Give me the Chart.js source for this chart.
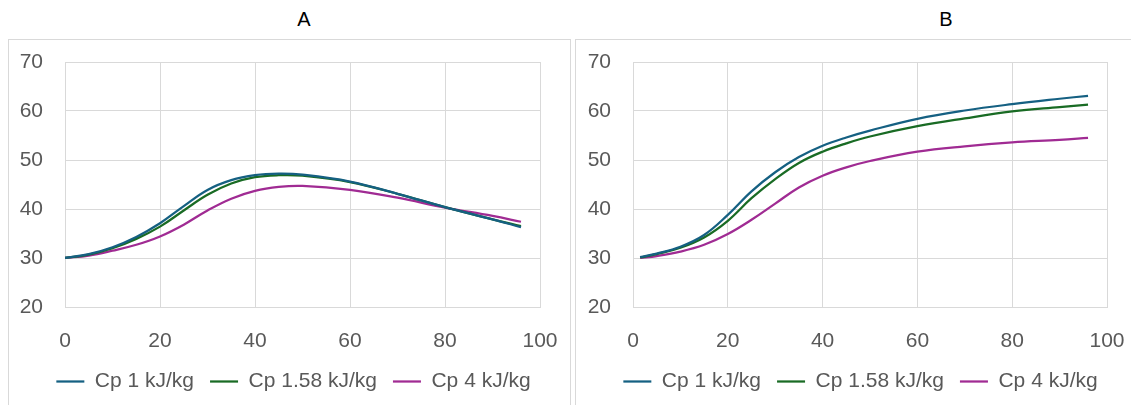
<!DOCTYPE html>
<html>
<head>
<meta charset="utf-8">
<script src="https://cdn.jsdelivr.net/npm/chart.js@4.4.1/dist/chart.umd.min.js"></script>
<style>
  html, body { margin: 0; padding: 0; background: #fff; overflow: hidden; }
  body { width: 1131px; height: 405px; position: relative; font-family: "Liberation Sans", Arial, sans-serif; }
  .title { position: absolute; top: 7px; width: 40px; margin-left: -20px; text-align: center; font-size: 20px; line-height: 24px; color: #000; }
  .box { position: absolute; top: 39px; height: 400px; border: 1px solid #d9d9d9; }
  .box canvas { position: absolute; left: 0; top: 0; }
</style>
</head>
<body>
<div class="title" style="left:304px">A</div>
<div class="title" style="left:946px">B</div>
<div class="box" style="left:8px; width:561px;"><canvas id="chart-a" width="561" height="365"></canvas></div>
<div class="box" style="left:575px; width:560px;"><canvas id="chart-b" width="555" height="365"></canvas></div>
<script>
const SERIES_NAMES = ["Cp 1 kJ/kg", "Cp 1.58 kJ/kg", "Cp 4 kJ/kg"];
const SERIES_COLORS = ["#156082", "#196B24", "#A02B93"];
const X_TICKS = [0, 20, 40, 60, 80, 100];
const Y_TICKS = [20, 30, 40, 50, 60, 70];

// panel A
const xA = [0, 5, 10, 15, 20, 25, 30, 35, 40, 45, 50, 60, 70, 80, 90, 96];
const a_cp1 = [30, 30.8, 32.2, 34.3, 37.1, 40.6, 43.9, 45.9, 46.9, 47.2, 47.0, 45.6, 43.1, 40.4, 37.9, 36.3];
const a_cp158 = [30, 30.7, 32.0, 33.9, 36.4, 39.7, 42.9, 45.2, 46.5, 46.9, 46.8, 45.5, 43.1, 40.4, 37.9, 36.5];
const a_cp4 = [30, 30.5, 31.5, 32.7, 34.4, 36.8, 39.7, 42.1, 43.7, 44.5, 44.7, 43.9, 42.3, 40.3, 38.6, 37.4];

// panel B
const xB = [1.5, 5, 10, 15, 20, 25, 30, 35, 40, 45, 50, 60, 70, 80, 90, 96];
const b_cp1 = [30.2, 30.9, 32.3, 34.7, 38.8, 43.6, 47.5, 50.6, 52.9, 54.6, 56.0, 58.4, 60.1, 61.4, 62.5, 63.1];
const b_cp158 = [30.1, 30.8, 32.1, 34.2, 37.6, 42.2, 46.1, 49.4, 51.7, 53.4, 54.8, 56.9, 58.5, 59.9, 60.8, 61.3];
const b_cp4 = [30.0, 30.4, 31.3, 32.7, 34.9, 37.8, 41.1, 44.4, 46.8, 48.5, 49.8, 51.7, 52.8, 53.6, 54.1, 54.5];

const GRID = "#d9d9d9";
const TEXT = "#595959";
const FONT = { family: "'Liberation Sans', Arial, sans-serif", size: 21 };

// the legend is centred on the canvas minus right padding; nudge it to sit like Excel's
const legendShift = {
  id: "legendShift",
  afterLayout(chart, args, opts) {
    chart.legend.left += opts.dx;
    chart.legend.right += opts.dx;
  },
};

function toPoints(xs, ys) {
  return xs.map((x, i) => ({ x, y: ys[i] }));
}

function makeChart(id, xs, seriesList, yWidth, padRight) {
  const el = document.getElementById(id);
  return new Chart(el, {
    type: "scatter",
    data: {
      datasets: seriesList.map((ys, i) => ({
        label: SERIES_NAMES[i],
        data: toPoints(xs, ys),
        showLine: true,
        borderColor: SERIES_COLORS[i],
        backgroundColor: SERIES_COLORS[i],
        borderWidth: 2.25,
        pointRadius: 0,
        tension: 0.4,
      })),
    },
    plugins: [legendShift],
    options: {
      responsive: false,
      animation: false,
      events: [],
      layout: { padding: { top: 22, right: padRight, bottom: 3, left: 0 } },
      plugins: {
        tooltip: { enabled: false },
        legendShift: { dx: 19 },
        legend: {
          position: "bottom",
          labels: {
            usePointStyle: true,
            pointStyle: "line",
            pointStyleWidth: 28,
            padding: 16,
            color: TEXT,
            font: FONT,
          },
        },
      },
      scales: {
        x: {
          type: "linear",
          min: X_TICKS[0],
          max: X_TICKS[X_TICKS.length - 1],
          afterBuildTicks: (s) => { s.ticks = X_TICKS.map((v) => ({ value: v })); },
          afterFit: (s) => { s.height = 48; },
          grid: { color: GRID, tickLength: 20, tickColor: "rgba(0,0,0,0)" },
          border: { color: GRID },
          ticks: { color: TEXT, font: FONT, padding: 2, maxRotation: 0 },
        },
        y: {
          min: Y_TICKS[0],
          max: Y_TICKS[Y_TICKS.length - 1],
          afterBuildTicks: (s) => { s.ticks = Y_TICKS.map((v) => ({ value: v })); },
          afterFit: (s) => { s.width = yWidth; },
          grid: { color: GRID, tickLength: 22, tickColor: "rgba(0,0,0,0)" },
          border: { color: GRID },
          ticks: { color: TEXT, font: FONT, padding: 0 },
        },
      },
    },
  });
}

makeChart("chart-a", xA, [a_cp1, a_cp158, a_cp4], 56, 30);
makeChart("chart-b", xB, [b_cp1, b_cp158, b_cp4], 57, 24);
</script>
</body>
</html>
